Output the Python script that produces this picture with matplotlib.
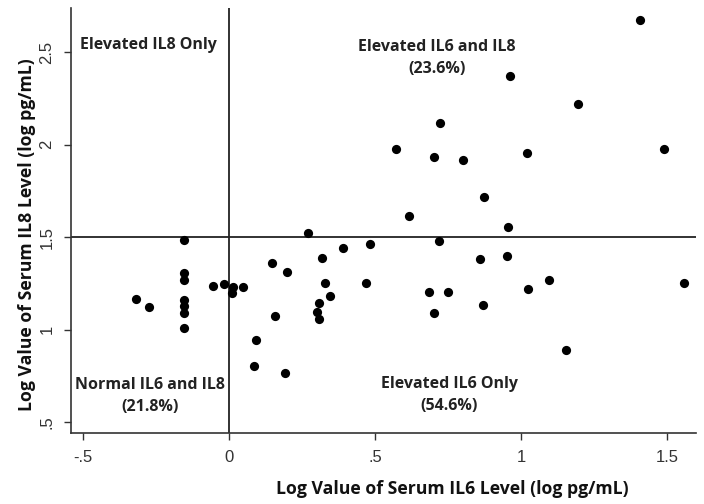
import numpy as np
from matplotlib import pyplot as plt

# log IL6 (x) and log IL8 (y) values
il6 = [1.408, 0.962, 1.195, 0.723, 0.572, 0.702, 0.801, 1.021, 1.490, 0.873,
       0.616, 0.955, 0.270, 0.390, 0.483, 0.719, 0.860, 0.952,
       -0.154, -0.154, -0.154, -0.154, -0.154, -0.154, -0.154,
       -0.318, -0.274, -0.055, -0.017, 0.014, 0.011, 0.048,
       0.147, 0.199, 0.319, 0.329, 0.346, 0.309, 0.300, 0.309, 0.158,
       0.091, 0.084, 0.190, 0.469, 0.685, 0.750, 0.702, 0.870,
       1.024, 1.096, 1.558, 1.154]
il8 = [2.673, 2.370, 2.219, 2.116, 1.976, 1.932, 1.916, 1.954, 1.976, 1.716,
       1.614, 1.554, 1.522, 1.441, 1.462, 1.479, 1.384, 1.396,
       1.484, 1.305, 1.268, 1.159, 1.127, 1.089, 1.008,
       1.165, 1.122, 1.235, 1.246, 1.232, 1.197, 1.230,
       1.359, 1.311, 1.386, 1.251, 1.181, 1.143, 1.097, 1.056, 1.073,
       0.946, 0.803, 0.765, 1.251, 1.203, 1.203, 1.089, 1.132,
       1.219, 1.266, 1.251, 0.889]

xticks = [-0.5, 0, 0.5, 1, 1.5]
xlabels = ['-.5', '0', '.5', '1', '1.5']
yticks = [0.5, 1, 1.5, 2, 2.5]
ylabels = ['.5', '1', '1.5', '2', '2.5']

cut_il6 = 0
cut_il8 = 1.5

fig = plt.figure(figsize=(7.04, 5.04), dpi=100)
ax = fig.add_axes([0.101, 0.141, 0.888, 0.843])

ax.scatter(il6, il8, s=44, color='black', zorder=3, linewidths=0)
ax.axhline(cut_il8, color='#222222', lw=1.3)
ax.axvline(cut_il6, color='#222222', lw=1.3)

ax.set_xlim(-0.541, 1.599)
ax.set_ylim(0.441, 2.738)

for s in ['top', 'right']:
    ax.spines[s].set_visible(False)
for s in ['left', 'bottom']:
    ax.spines[s].set_color('#333333')
    ax.spines[s].set_linewidth(1.2)

ax.set_xticks(xticks)
ax.set_xticklabels(xlabels)
ax.set_yticks(yticks)
ax.set_yticklabels(ylabels, rotation=90, va='center')
ax.tick_params(axis='both', length=5, width=1, color='#333333',
               labelcolor='#333333', labelsize=12, pad=7)
for t in ax.get_xticklabels() + ax.get_yticklabels():
    t.set_family('Liberation Sans')

lab = dict(family='Open Sans', weight='bold', fontsize=12.7, color='#111111',
           ha='center', va='center')
fig.text(0.642, 0.029, 'Log Value of Serum IL6 Level (log pg/mL)', **lab)
fig.text(0.038, 0.534, 'Log Value of Serum IL8 Level (log pg/mL)',
         rotation=90, **lab)

note = dict(family='Open Sans', weight='bold', fontsize=11.5, color='#222222',
            ha='center', va='center', linespacing=1.5)
ax.text(-0.51, 2.54, 'Elevated IL8 Only', ha='left', va='center',
        family='Open Sans', weight='bold', fontsize=11.5, color='#222222')
ax.text(0.712, 2.47, 'Elevated IL6 and IL8\n(23.6%)', **note)
ax.text(-0.27, 0.64, 'Normal IL6 and IL8\n(21.8%)', **note)
ax.text(0.753, 0.646, 'Elevated IL6 Only\n(54.6%)', **note)

plt.savefig('out.png', dpi=100)
